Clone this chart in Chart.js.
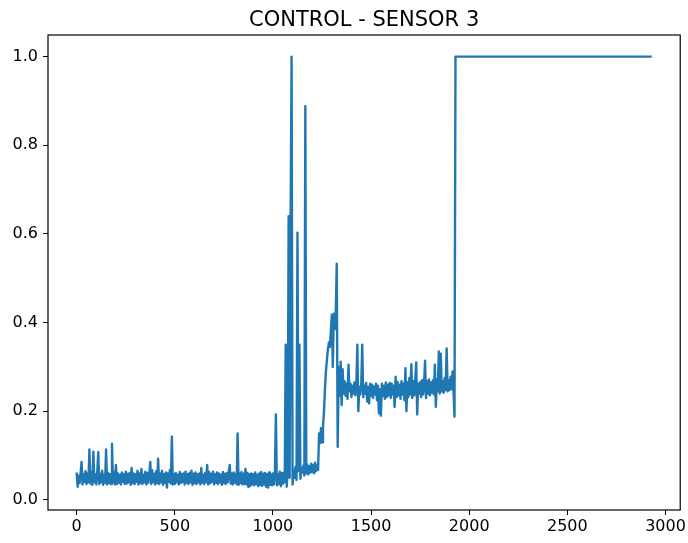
<!DOCTYPE html>
<html>
<head>
<meta charset="utf-8">
<script src="https://cdn.jsdelivr.net/npm/chart.js@4.4.1/dist/chart.umd.min.js"></script>
<style>
  html, body { margin: 0; padding: 0; background: #fff; }
  #wrap { width: 688px; height: 543px; }
</style>
</head>
<body>
<div id="wrap"><canvas id="chart" width="688" height="543"></canvas></div>
<script>
// readings of sensor 3, one value every 5 samples (x = 0 .. 1930)
const chartTitle = "CONTROL - SENSOR 3";
const sampleStep = 5;
const sensorValues = [
  .062,.030,.055,.038,.060,.086,.035,.058,.041,.065,
  .036,.060,.040,.114,.037,.062,.034,.109,.040,.058,
  .035,.064,.108,.036,.059,.040,.066,.034,.057,.039,
  .114,.035,.061,.038,.058,.036,.127,.040,.063,.035,
  .079,.036,.060,.039,.057,.035,.062,.041,.058,.036,
  .064,.037,.059,.040,.061,.034,.072,.038,.060,.036,
  .058,.041,.066,.035,.060,.038,.070,.036,.057,.040,
  .064,.035,.061,.039,.058,.086,.036,.067,.040,.059,
  .035,.065,.038,.093,.036,.060,.040,.066,.034,.058,
  .039,.062,.028,.060,.041,.068,.037,.143,.035,.058,
  .036,.061,.040,.057,.035,.063,.038,.059,.041,.060,
  .035,.064,.039,.058,.036,.061,.040,.066,.034,.059,
  .038,.062,.036,.058,.040,.060,.035,.072,.039,.057,
  .036,.061,.040,.079,.035,.063,.038,.059,.041,.064,
  .035,.058,.039,.062,.036,.060,.040,.057,.034,.063,
  .038,.059,.036,.061,.040,.065,.079,.037,.060,.035,
  .062,.039,.058,.036,.150,.034,.060,.038,.063,.035,
  .059,.036,.070,.035,.061,.029,.058,.032,.060,.035,
  .058,.033,.062,.036,.057,.031,.060,.034,.063,.032,
  .059,.035,.061,.030,.058,.028,.062,.034,.057,.033,
  .060,.035,.062,.193,.033,.058,.036,.064,.031,.061,
  .036,.062,.040,.350,.030,.065,.640,.050,.630,1.00,
  .035,.068,.050,.075,.045,.603,.065,.350,.048,.072,
  .062,.078,.055,.888,.060,.080,.058,.076,.062,.082,
  .063,.079,.060,.084,.065,.078,.068,.150,.128,.162,
  .130,.165,.200,.250,.290,.316,.340,.355,.345,.380,
  .418,.300,.420,.385,.418,.533,.120,.300,.235,.312,
  .214,.295,.240,.268,.235,.262,.228,.305,.245,.262,
  .232,.258,.240,.265,.236,.260,.350,.200,.255,.238,
  .262,.350,.232,.258,.240,.264,.222,.255,.218,.262,
  .235,.260,.230,.256,.238,.262,.225,.258,.195,.250,
  .190,.262,.235,.258,.228,.265,.232,.260,.236,.264,
  .230,.262,.238,.258,.210,.278,.232,.266,.236,.260,
  .228,.268,.238,.262,.225,.297,.200,.265,.232,.275,
  .238,.306,.230,.268,.236,.270,.310,.193,.262,.240,
  .266,.232,.270,.238,.262,.314,.230,.268,.240,.272,
  .236,.265,.242,.270,.238,.305,.210,.272,.245,.335,
  .240,.330,.245,.268,.242,.275,.248,.342,.245,.270,
  .248,.278,.250,.290,.245,.188,1.00
];
// flat saturated tail
const plateauX = [2930];
const plateauY = [1.0];

const xTicks = [0, 500, 1000, 1500, 2000, 2500, 3000];
const yTicks = [0.0, 0.2, 0.4, 0.6, 0.8, 1.0];

const points = sensorValues
  .map((v, i) => ({ x: i * sampleStep, y: v }))
  .concat(plateauX.map((x, i) => ({ x: x, y: plateauY[i] })));

const FONT = "'DejaVu Sans', sans-serif";

// frame round the plot area + title centred over the axes (like matplotlib)
const framePlugin = {
  id: "frame",
  afterDraw(chart) {
    const a = chart.chartArea;
    const ctx = chart.ctx;
    ctx.save();
    ctx.strokeStyle = "#000";
    ctx.lineWidth = 1.2;
    ctx.strokeRect(a.left, a.top, a.right - a.left, a.bottom - a.top);
    ctx.fillStyle = "#000";
    ctx.font = "21px " + FONT;
    ctx.textAlign = "center";
    ctx.textBaseline = "alphabetic";
    ctx.fillText(chartTitle, (a.left + a.right) / 2, 26);
    ctx.restore();
  }
};

new Chart(document.getElementById("chart"), {
  type: "line",
  data: {
    datasets: [{
      data: points,
      borderColor: "#1f77b4",
      borderWidth: 2.4,
      borderJoinStyle: "round",
      pointRadius: 0,
      tension: 0,
      fill: false
    }]
  },
  options: {
    responsive: false,
    animation: false,
    devicePixelRatio: 1,
    layout: { padding: { left: 0, right: 6, top: 35, bottom: 0 } },
    plugins: {
      legend: { display: false },
      tooltip: { enabled: false },
      title: { display: false }
    },
    scales: {
      x: {
        type: "linear",
        min: -146,
        max: 3075,
        afterBuildTicks: (s) => { s.ticks = xTicks.map(v => ({ value: v })); },
        afterFit: (s) => { s.height = 33; },
        border: { display: false },
        grid: { display: true, drawOnChartArea: false, drawTicks: true, tickLength: 5, color: "#000", lineWidth: 1 },
        ticks: { color: "#000", font: { family: FONT, size: 16 }, padding: 2, maxRotation: 0, autoSkip: false,
                 callback: (v) => String(v) }
      },
      y: {
        type: "linear",
        min: -0.0226,
        max: 1.0487,
        afterBuildTicks: (s) => { s.ticks = yTicks.map(v => ({ value: v })); },
        afterFit: (s) => { s.width = 48; },
        border: { display: false },
        grid: { display: true, drawOnChartArea: false, drawTicks: true, tickLength: 5, color: "#000", lineWidth: 1 },
        ticks: { color: "#000", font: { family: FONT, size: 16 }, padding: 5, autoSkip: false,
                 callback: (v) => v.toFixed(1) }
      }
    }
  },
  plugins: [framePlugin]
});
</script>
</body>
</html>
